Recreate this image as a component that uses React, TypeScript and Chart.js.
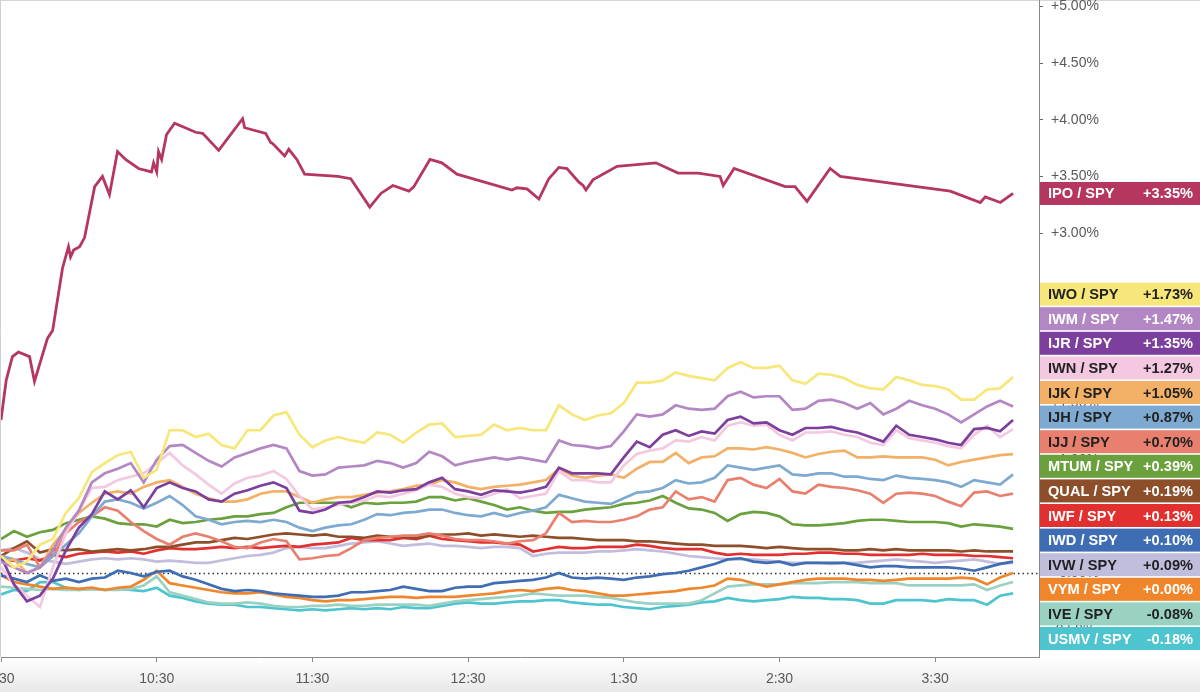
import React, { useEffect, useRef } from "react";
import { Chart, registerables } from "chart.js";

Chart.register(...registerables);

const FONT = '"Liberation Sans", Arial, Helvetica, sans-serif';

// ---- X axis ticks (minutes after 9:30) ----
const xTickValues = [0, 60, 120, 180, 240, 300, 360];
const xTickLabels = ["9:30", "10:30", "11:30", "12:30", "1:30", "2:30", "3:30"];
const yTickValues = [-0.5, 0, 0.5, 1, 1.5, 2, 2.5, 3, 3.5, 4, 4.5, 5];

// ---- IPO / SPY (own sample times, minutes after 9:30) ----
const ipoTimes = [0, 2, 4.4, 6.7, 11, 12.9, 17.9, 19.9, 23.7, 26, 26.8, 28, 30.3, 32.2, 36.1, 39.1, 41.8, 44.9, 48, 53, 58, 58.8, 60, 60.7, 61.9, 63.8, 66.9, 75, 77.7, 83.9, 93.1, 93.9, 102, 103.9, 104.7, 109.3, 110.9, 114, 117, 129.8, 134.8, 142.1, 146.4, 151, 157.2, 159.1, 165.3, 169.9, 175.7, 196.9, 198.8, 202.7, 207.3, 211.1, 215, 218.1, 222.7, 224.3, 225.4, 228.1, 237.4, 252.4, 260.9, 268.6, 277.1, 278.3, 282.5, 302.2, 306, 310.6, 319.5, 323.4, 365.8, 377.4, 379.3, 385.1, 390];
const ipoValues = [1.35, 1.70, 1.91, 1.95, 1.91, 1.69, 2.07, 2.14, 2.69, 2.88, 2.79, 2.85, 2.88, 2.96, 3.41, 3.50, 3.34, 3.72, 3.65, 3.57, 3.54, 3.62, 3.54, 3.72, 3.65, 3.87, 3.97, 3.89, 3.88, 3.73, 4.01, 3.93, 3.88, 3.80, 3.79, 3.68, 3.74, 3.65, 3.52, 3.50, 3.48, 3.23, 3.35, 3.42, 3.37, 3.41, 3.65, 3.62, 3.52, 3.38, 3.40, 3.39, 3.30, 3.48, 3.58, 3.57, 3.45, 3.42, 3.38, 3.47, 3.59, 3.62, 3.53, 3.53, 3.50, 3.42, 3.57, 3.41, 3.41, 3.28, 3.57, 3.50, 3.37, 3.27, 3.32, 3.27, 3.35];

// ---- common 5-minute sample times for the other series ----
const gridTimes = [0, 5, 10, 15, 20, 25, 30, 35, 40, 45, 50, 55, 60, 65, 70, 75, 80, 85, 90, 95, 100, 105, 110, 115, 120, 125, 130, 135, 140, 145, 150, 155, 160, 165, 170, 175, 180, 185, 190, 195, 200, 205, 210, 215, 220, 225, 230, 235, 240, 245, 250, 255, 260, 265, 270, 275, 280, 285, 290, 295, 300, 305, 310, 315, 320, 325, 330, 335, 340, 345, 350, 355, 360, 365, 370, 375, 380, 385, 390];

const iwoValues = [0.15, 0.05, 0.10, 0.25, 0.30, 0.53, 0.66, 0.89, 0.97, 1.04, 1.07, 0.84, 0.91, 1.26, 1.26, 1.20, 1.23, 1.13, 1.10, 1.26, 1.26, 1.39, 1.42, 1.22, 1.11, 1.17, 1.20, 1.17, 1.15, 1.24, 1.22, 1.15, 1.24, 1.31, 1.32, 1.20, 1.21, 1.22, 1.31, 1.26, 1.28, 1.26, 1.26, 1.48, 1.40, 1.35, 1.39, 1.41, 1.50, 1.68, 1.68, 1.70, 1.77, 1.74, 1.72, 1.70, 1.81, 1.86, 1.81, 1.81, 1.83, 1.70, 1.67, 1.76, 1.75, 1.72, 1.66, 1.63, 1.62, 1.73, 1.70, 1.66, 1.65, 1.62, 1.53, 1.53, 1.62, 1.63, 1.73];
const iwmValues = [0.10, 0.05, 0.00, 0.05, 0.20, 0.40, 0.55, 0.80, 0.88, 0.92, 0.97, 0.80, 1.00, 1.12, 1.13, 1.06, 0.99, 0.94, 1.02, 1.06, 1.10, 1.13, 1.10, 0.90, 0.86, 0.87, 0.93, 0.94, 0.95, 0.99, 0.97, 0.93, 0.97, 1.07, 1.03, 0.95, 0.98, 1.00, 1.02, 1.00, 1.02, 1.00, 0.98, 1.17, 1.13, 1.12, 1.10, 1.12, 1.25, 1.40, 1.38, 1.40, 1.48, 1.45, 1.44, 1.45, 1.56, 1.60, 1.55, 1.56, 1.56, 1.44, 1.45, 1.52, 1.53, 1.50, 1.45, 1.50, 1.40, 1.45, 1.52, 1.48, 1.45, 1.40, 1.33, 1.40, 1.47, 1.52, 1.47];
const ijrValues = [0.15, -0.10, -0.25, -0.20, -0.05, 0.20, 0.40, 0.52, 0.72, 0.65, 0.73, 0.58, 0.75, 0.80, 0.75, 0.72, 0.65, 0.63, 0.70, 0.73, 0.77, 0.80, 0.75, 0.55, 0.53, 0.56, 0.62, 0.63, 0.67, 0.72, 0.71, 0.73, 0.74, 0.80, 0.84, 0.74, 0.72, 0.69, 0.73, 0.72, 0.71, 0.73, 0.76, 0.93, 0.88, 0.88, 0.88, 0.87, 1.02, 1.16, 1.11, 1.22, 1.26, 1.21, 1.25, 1.23, 1.35, 1.38, 1.32, 1.33, 1.26, 1.22, 1.28, 1.28, 1.29, 1.26, 1.24, 1.20, 1.16, 1.30, 1.22, 1.20, 1.18, 1.15, 1.13, 1.27, 1.28, 1.25, 1.35];
const iwnValues = [0.05, -0.10, -0.20, -0.30, 0.05, 0.35, 0.55, 0.75, 0.76, 0.82, 0.85, 0.88, 0.97, 1.06, 0.95, 0.87, 0.78, 0.70, 0.79, 0.84, 0.86, 0.90, 0.83, 0.68, 0.56, 0.58, 0.60, 0.62, 0.64, 0.68, 0.67, 0.70, 0.73, 0.78, 0.76, 0.70, 0.67, 0.66, 0.70, 0.74, 0.66, 0.68, 0.70, 0.90, 0.82, 0.82, 0.80, 0.80, 0.95, 1.05, 1.08, 1.10, 1.17, 1.16, 1.20, 1.17, 1.30, 1.33, 1.30, 1.31, 1.22, 1.17, 1.24, 1.24, 1.25, 1.22, 1.20, 1.15, 1.13, 1.26, 1.19, 1.17, 1.15, 1.12, 1.10, 1.22, 1.30, 1.20, 1.27];
const ijkValues = [0.10, 0.12, 0.00, 0.05, 0.25, 0.38, 0.53, 0.62, 0.70, 0.72, 0.70, 0.76, 0.80, 0.82, 0.76, 0.70, 0.66, 0.63, 0.63, 0.65, 0.70, 0.72, 0.72, 0.67, 0.62, 0.65, 0.67, 0.67, 0.69, 0.71, 0.72, 0.74, 0.77, 0.78, 0.82, 0.80, 0.76, 0.74, 0.76, 0.77, 0.78, 0.80, 0.82, 0.92, 0.86, 0.84, 0.86, 0.87, 0.84, 0.92, 0.98, 0.98, 1.06, 0.97, 1.02, 1.03, 1.10, 1.10, 1.09, 1.11, 1.09, 1.06, 1.02, 1.05, 1.07, 1.08, 1.02, 1.02, 1.03, 1.02, 1.02, 1.02, 1.00, 0.95, 0.98, 1.00, 1.02, 1.04, 1.05];
const ijhValues = [0.15, 0.12, 0.08, 0.05, 0.15, 0.25, 0.35, 0.50, 0.63, 0.65, 0.62, 0.57, 0.62, 0.68, 0.60, 0.50, 0.47, 0.43, 0.45, 0.46, 0.45, 0.47, 0.45, 0.40, 0.37, 0.40, 0.42, 0.43, 0.47, 0.52, 0.51, 0.53, 0.54, 0.56, 0.56, 0.53, 0.51, 0.50, 0.53, 0.50, 0.53, 0.55, 0.58, 0.69, 0.66, 0.63, 0.62, 0.61, 0.66, 0.71, 0.72, 0.75, 0.82, 0.79, 0.80, 0.84, 0.95, 0.93, 0.91, 0.93, 0.95, 0.87, 0.86, 0.88, 0.88, 0.85, 0.85, 0.83, 0.82, 0.86, 0.84, 0.83, 0.82, 0.80, 0.76, 0.82, 0.80, 0.78, 0.87];
const ijjValues = [0.20, 0.20, 0.25, 0.05, 0.15, 0.35, 0.45, 0.50, 0.58, 0.55, 0.45, 0.37, 0.30, 0.25, 0.32, 0.35, 0.32, 0.28, 0.23, 0.22, 0.27, 0.30, 0.28, 0.12, 0.13, 0.15, 0.16, 0.22, 0.29, 0.31, 0.32, 0.33, 0.33, 0.35, 0.33, 0.30, 0.29, 0.29, 0.28, 0.26, 0.28, 0.29, 0.35, 0.53, 0.45, 0.46, 0.45, 0.45, 0.47, 0.50, 0.56, 0.58, 0.72, 0.65, 0.67, 0.63, 0.82, 0.84, 0.78, 0.75, 0.83, 0.72, 0.70, 0.78, 0.76, 0.75, 0.73, 0.70, 0.62, 0.70, 0.71, 0.70, 0.68, 0.63, 0.59, 0.71, 0.72, 0.68, 0.70];
const mtumValues = [0.30, 0.37, 0.32, 0.36, 0.38, 0.44, 0.47, 0.50, 0.48, 0.44, 0.43, 0.43, 0.41, 0.47, 0.44, 0.45, 0.47, 0.48, 0.50, 0.50, 0.52, 0.53, 0.58, 0.62, 0.62, 0.62, 0.62, 0.58, 0.62, 0.61, 0.62, 0.62, 0.63, 0.67, 0.67, 0.64, 0.66, 0.63, 0.60, 0.56, 0.58, 0.55, 0.53, 0.54, 0.54, 0.56, 0.57, 0.58, 0.61, 0.62, 0.64, 0.68, 0.62, 0.57, 0.56, 0.53, 0.46, 0.52, 0.54, 0.53, 0.50, 0.43, 0.42, 0.42, 0.43, 0.44, 0.46, 0.47, 0.47, 0.46, 0.45, 0.45, 0.45, 0.44, 0.41, 0.43, 0.42, 0.41, 0.39];
const qualValues = [0.15, 0.22, 0.28, 0.18, 0.21, 0.20, 0.21, 0.19, 0.20, 0.21, 0.20, 0.21, 0.23, 0.23, 0.25, 0.27, 0.27, 0.29, 0.31, 0.30, 0.32, 0.34, 0.35, 0.34, 0.33, 0.34, 0.32, 0.32, 0.31, 0.33, 0.32, 0.32, 0.31, 0.33, 0.34, 0.34, 0.35, 0.33, 0.34, 0.33, 0.32, 0.33, 0.32, 0.31, 0.31, 0.30, 0.29, 0.29, 0.29, 0.28, 0.28, 0.27, 0.26, 0.25, 0.25, 0.24, 0.24, 0.24, 0.23, 0.22, 0.23, 0.22, 0.21, 0.21, 0.21, 0.20, 0.20, 0.21, 0.20, 0.21, 0.20, 0.20, 0.20, 0.20, 0.19, 0.20, 0.19, 0.19, 0.19];
const iwfValues = [0.12, 0.11, 0.13, 0.11, 0.16, 0.14, 0.17, 0.18, 0.19, 0.18, 0.19, 0.17, 0.20, 0.22, 0.21, 0.21, 0.22, 0.23, 0.22, 0.23, 0.22, 0.23, 0.24, 0.23, 0.25, 0.26, 0.27, 0.31, 0.29, 0.29, 0.29, 0.31, 0.30, 0.33, 0.30, 0.29, 0.28, 0.27, 0.27, 0.26, 0.25, 0.19, 0.21, 0.23, 0.22, 0.22, 0.23, 0.23, 0.23, 0.25, 0.24, 0.22, 0.21, 0.21, 0.21, 0.18, 0.16, 0.17, 0.16, 0.16, 0.16, 0.17, 0.17, 0.18, 0.18, 0.17, 0.17, 0.16, 0.16, 0.16, 0.16, 0.17, 0.16, 0.16, 0.16, 0.15, 0.15, 0.14, 0.13];
const iwdValues = [-0.02, -0.05, -0.08, -0.02, -0.07, -0.05, -0.08, -0.05, -0.04, 0.02, 0.00, -0.03, 0.01, 0.02, -0.03, -0.06, -0.10, -0.14, -0.16, -0.15, -0.16, -0.18, -0.19, -0.20, -0.21, -0.21, -0.20, -0.17, -0.17, -0.16, -0.15, -0.12, -0.14, -0.16, -0.16, -0.13, -0.12, -0.12, -0.09, -0.08, -0.07, -0.06, -0.04, 0.00, -0.04, -0.05, -0.04, -0.05, -0.06, -0.04, -0.03, -0.01, 0.00, 0.02, 0.05, 0.08, 0.12, 0.13, 0.10, 0.09, 0.10, 0.07, 0.09, 0.09, 0.09, 0.09, 0.07, 0.05, 0.06, 0.06, 0.05, 0.05, 0.05, 0.05, 0.04, 0.02, 0.05, 0.08, 0.10];
const ivwValues = [0.20, 0.22, 0.18, 0.12, 0.10, 0.08, 0.10, 0.12, 0.13, 0.12, 0.13, 0.12, 0.10, 0.11, 0.10, 0.09, 0.09, 0.11, 0.13, 0.15, 0.16, 0.18, 0.22, 0.23, 0.22, 0.22, 0.24, 0.26, 0.27, 0.28, 0.26, 0.24, 0.25, 0.26, 0.24, 0.24, 0.23, 0.22, 0.23, 0.23, 0.22, 0.15, 0.17, 0.18, 0.18, 0.18, 0.19, 0.19, 0.20, 0.21, 0.20, 0.19, 0.17, 0.15, 0.14, 0.13, 0.12, 0.12, 0.12, 0.11, 0.10, 0.09, 0.09, 0.09, 0.08, 0.09, 0.09, 0.10, 0.11, 0.12, 0.11, 0.10, 0.09, 0.10, 0.11, 0.12, 0.10, 0.08, 0.09];
const vymValues = [-0.02, -0.08, -0.10, -0.12, -0.14, -0.13, -0.14, -0.13, -0.15, -0.13, -0.12, -0.06, 0.02, -0.09, -0.11, -0.13, -0.15, -0.17, -0.18, -0.18, -0.17, -0.19, -0.21, -0.22, -0.24, -0.25, -0.24, -0.24, -0.23, -0.22, -0.21, -0.21, -0.22, -0.21, -0.21, -0.21, -0.20, -0.19, -0.18, -0.16, -0.15, -0.16, -0.14, -0.13, -0.15, -0.16, -0.18, -0.20, -0.20, -0.19, -0.18, -0.17, -0.16, -0.14, -0.13, -0.11, -0.05, -0.06, -0.09, -0.12, -0.10, -0.08, -0.06, -0.05, -0.05, -0.05, -0.06, -0.06, -0.07, -0.06, -0.05, -0.05, -0.05, -0.05, -0.04, -0.05, -0.10, -0.04, 0.00];
const iveValues = [-0.12, -0.13, -0.14, -0.15, -0.14, -0.15, -0.15, -0.14, -0.15, -0.15, -0.14, -0.11, -0.03, -0.17, -0.20, -0.23, -0.26, -0.27, -0.27, -0.26, -0.27, -0.29, -0.30, -0.30, -0.29, -0.29, -0.28, -0.29, -0.29, -0.28, -0.28, -0.28, -0.28, -0.29, -0.27, -0.25, -0.24, -0.23, -0.22, -0.21, -0.20, -0.18, -0.19, -0.20, -0.20, -0.20, -0.21, -0.22, -0.24, -0.26, -0.27, -0.27, -0.27, -0.27, -0.24, -0.18, -0.12, -0.11, -0.10, -0.10, -0.10, -0.09, -0.09, -0.09, -0.08, -0.08, -0.08, -0.09, -0.09, -0.09, -0.11, -0.11, -0.11, -0.11, -0.11, -0.10, -0.15, -0.11, -0.08];
const usmvValues = [-0.19, -0.15, -0.16, -0.08, -0.08, -0.13, -0.15, -0.14, -0.15, -0.14, -0.15, -0.16, -0.13, -0.20, -0.22, -0.25, -0.27, -0.28, -0.28, -0.30, -0.30, -0.31, -0.32, -0.33, -0.32, -0.33, -0.32, -0.31, -0.32, -0.31, -0.32, -0.30, -0.31, -0.31, -0.29, -0.27, -0.26, -0.27, -0.27, -0.26, -0.25, -0.25, -0.24, -0.24, -0.26, -0.27, -0.28, -0.28, -0.30, -0.31, -0.32, -0.30, -0.29, -0.28, -0.26, -0.25, -0.22, -0.24, -0.25, -0.24, -0.23, -0.21, -0.22, -0.22, -0.23, -0.23, -0.24, -0.27, -0.27, -0.24, -0.24, -0.24, -0.25, -0.23, -0.24, -0.24, -0.28, -0.20, -0.18];

const seriesNames = ["IPO / SPY", "IWO / SPY", "IWM / SPY", "IJR / SPY", "IWN / SPY", "IJK / SPY", "IJH / SPY", "IJJ / SPY", "MTUM / SPY", "QUAL / SPY", "IWF / SPY", "IWD / SPY", "IVW / SPY", "VYM / SPY", "IVE / SPY", "USMV / SPY"];
const seriesColors = ["#b5375f", "#f7e77a", "#b386c4", "#7d3f9d", "#f4c8e1", "#f2b166", "#7ea9d0", "#e9806f", "#6aa13d", "#8c4f2a", "#e1302f", "#3e6db3", "#c1bddd", "#f0862b", "#9ad1c3", "#4ec4ce"];
const labelTextColors = ["#ffffff", "#222222", "#ffffff", "#ffffff", "#222222", "#222222", "#222222", "#222222", "#ffffff", "#ffffff", "#ffffff", "#ffffff", "#222222", "#ffffff", "#222222", "#ffffff"];
const gridSeries = [iwoValues, iwmValues, ijrValues, iwnValues, ijkValues, ijhValues, ijjValues, mtumValues, qualValues, iwfValues, iwdValues, ivwValues, vymValues, iveValues, usmvValues];

const fmtPct = (v: number) => (v < -0.0001 ? "-" : "+") + Math.abs(v).toFixed(2) + "%";

function layoutLabels(ideals: number[], pitch: number, minC: number, maxC: number): number[] {
  type C = { idx: number[]; sum: number; start: number };
  const fix = (c: C) => {
    const n = c.idx.length;
    let s = c.sum / n - ((n - 1) * pitch) / 2;
    if (s + (n - 1) * pitch > maxC) s = maxC - (n - 1) * pitch;
    if (s < minC) s = minC;
    c.start = s;
  };
  const cs: C[] = ideals.map((v, k) => ({ idx: [k], sum: v, start: v }));
  cs.forEach(fix);
  let merged = true;
  while (merged) {
    merged = false;
    for (let k = 0; k < cs.length - 1; k++) {
      const a = cs[k];
      const b = cs[k + 1];
      if (b.start - (a.start + (a.idx.length - 1) * pitch) < pitch) {
        const c: C = { idx: a.idx.concat(b.idx), sum: a.sum + b.sum, start: 0 };
        fix(c);
        cs.splice(k, 2, c);
        merged = true;
        break;
      }
    }
  }
  const out: number[] = new Array(ideals.length);
  cs.forEach((c) => c.idx.forEach((k, j) => (out[k] = c.start + j * pitch)));
  return out;
}

export default function App() {
  const ref = useRef<HTMLCanvasElement>(null);

  useEffect(() => {
    document.body.style.margin = "0";
    const canvas = ref.current;
    if (!canvas) return;

    const allSeries = [ipoValues, ...gridSeries];
    const lastValues = allSeries.map((s) => s[s.length - 1]);

    const datasets = [
      {
        label: seriesNames[0],
        data: ipoTimes.map((t, i) => ({ x: t, y: ipoValues[i] })),
        borderColor: seriesColors[0],
        borderWidth: 2.8,
      },
      ...gridSeries.map((vals, k) => ({
        label: seriesNames[k + 1],
        data: gridTimes.map((t, i) => ({ x: t, y: vals[i] })),
        borderColor: seriesColors[k + 1],
        borderWidth: 2.7,
      })),
    ];

    const bgPlugin = {
      id: "bg",
      beforeDraw(chart: any) {
        const { ctx, chartArea, width, height } = chart;
        ctx.save();
        ctx.fillStyle = "#ffffff";
        ctx.fillRect(0, 0, width, height);
        const g = ctx.createLinearGradient(0, chartArea.bottom, 0, height);
        g.addColorStop(0, "#ffffff");
        g.addColorStop(1, "#e8e8e8");
        ctx.fillStyle = g;
        ctx.fillRect(0, chartArea.bottom, width, height - chartArea.bottom);
        ctx.strokeStyle = "#d6d6d6";
        ctx.lineWidth = 1;
        ctx.beginPath();
        ctx.moveTo(0, 0.5);
        ctx.lineTo(width, 0.5);
        ctx.stroke();
        ctx.strokeStyle = "#c9d0da";
        ctx.beginPath();
        ctx.moveTo(0.5, 0);
        ctx.lineTo(0.5, chartArea.bottom);
        ctx.stroke();
        ctx.restore();
      },
      beforeDatasetsDraw(chart: any) {
        const { ctx, chartArea, scales } = chart;
        const y0 = Math.round(scales.y.getPixelForValue(0)) + 0.5;
        ctx.save();
        ctx.strokeStyle = "#333333";
        ctx.lineWidth = 1.5;
        ctx.setLineDash([1.5, 3]);
        ctx.beginPath();
        ctx.moveTo(chartArea.left, y0);
        ctx.lineTo(chartArea.right, y0);
        ctx.stroke();
        ctx.restore();
      },
    };

    const boxPlugin = {
      id: "boxes",
      afterDraw(chart: any) {
        const { ctx, chartArea, scales, width } = chart;
        const yS = scales.y;
        const order = lastValues
          .map((v, i) => ({ i, ideal: yS.getPixelForValue(v) }))
          .sort((a, b) => a.ideal - b.ideal);
        const pitch = 24.6;
        const h = 23;
        const pos = layoutLabels(
          order.map((o) => o.ideal),
          pitch,
          chartArea.top + h / 2,
          chartArea.bottom - 7 - h / 2
        );
        ctx.save();
        order.forEach((o, k) => {
          const c = pos[k];
          const x0 = chartArea.right + 1;
          ctx.fillStyle = seriesColors[o.i];
          ctx.fillRect(x0, c - h / 2, width - x0, h);
          ctx.fillStyle = labelTextColors[o.i];
          ctx.font = `bold 14.6px ${FONT}`;
          ctx.textBaseline = "middle";
          ctx.textAlign = "left";
          ctx.fillText(seriesNames[o.i], x0 + 8, c + 1);
          ctx.textAlign = "right";
          ctx.fillText(fmtPct(lastValues[o.i]), width - 7, c + 1);
        });
        ctx.restore();
      },
    };

    const chart = new Chart(canvas, {
      type: "line",
      data: { datasets: datasets as any },
      options: {
        animation: false,
        responsive: false,
        devicePixelRatio: 1,
        layout: { padding: { left: 1, top: 0, right: 0, bottom: 0 } },
        plugins: { legend: { display: false }, tooltip: { enabled: false } },
        elements: { point: { radius: 0 }, line: { tension: 0 } },
        scales: {
          x: {
            type: "linear",
            min: 0,
            max: 400,
            afterBuildTicks: (s: any) => {
              s.ticks = xTickValues.map((v) => ({ value: v }));
            },
            afterFit: (s: any) => {
              s.height = 35;
              s.paddingLeft = 0;
              s.paddingRight = 0;
            },
            grid: { drawOnChartArea: false, drawTicks: true, tickLength: 5, color: "#8a8a8a" },
            border: { display: true, color: "#8a8a8a", width: 1 },
            ticks: {
              autoSkip: false,
              maxRotation: 0,
              padding: 9,
              color: "#595959",
              font: { family: FONT, size: 14 },
              callback: (v: any) => {
                const idx = xTickValues.indexOf(Number(v));
                return idx >= 0 ? xTickLabels[idx] : "";
              },
            },
          },
          y: {
            type: "linear",
            position: "right",
            min: -84 / 113.3,
            max: 573 / 113.3,
            afterBuildTicks: (s: any) => {
              s.ticks = yTickValues.map((v) => ({ value: v }));
            },
            afterFit: (s: any) => {
              s.width = 161;
              s.paddingTop = 0;
              s.paddingBottom = 0;
            },
            grid: { drawOnChartArea: false, drawTicks: true, tickLength: 4, color: "#666666" },
            border: { display: true, color: "#8a8a8a", width: 1 },
            ticks: {
              padding: 8,
              color: "#595959",
              font: { family: FONT, size: 14 },
              callback: (v: any) => fmtPct(Number(v)),
            },
          },
        },
      },
      plugins: [bgPlugin, boxPlugin],
    });

    return () => chart.destroy();
  }, []);

  return (
    <div style={{ width: 1200, height: 692, overflow: "hidden", background: "#fff" }}>
      <canvas ref={ref} width={1200} height={692} style={{ display: "block" }} />
    </div>
  );
}
